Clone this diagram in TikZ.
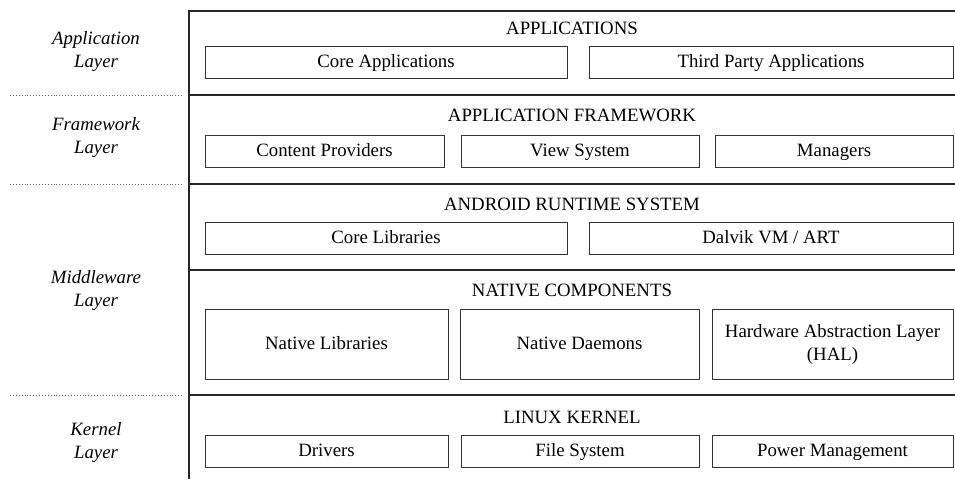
\documentclass[tikz,border=0pt]{standalone}
\usepackage{fontspec}
\setmainfont{Liberation Serif}
\newcommand{\stackfont}{\fontsize{18.8}{23}\selectfont}
\tikzset{
  comp/.style={draw=black!80, line width=0.8pt, inner sep=0pt, align=center,
    minimum height=#1},
  comp/.default=32pt,
  oneline/.style={text height=14pt, text depth=4pt},
  layertitle/.style={inner sep=0pt, anchor=base},
  layername/.style={align=center, font=\stackfont\itshape, inner sep=0pt},
  sep/.style={black!85, line width=1.4pt},
  split/.style={black!60, dotted, line width=0.9pt}
}
\begin{document}
\begin{tikzpicture}[x=1pt,y=-1pt,font=\stackfont]
\useasboundingbox (0,0) rectangle (955,479);
% frame of the stack
\draw[sep] (189,479) -- (189,11) -- (955,11);
\draw[sep] (189,95) -- (955,95);
\draw[sep] (189,184) -- (955,184);
\draw[sep] (189,270) -- (955,270);
\draw[sep] (189,395) -- (955,395);
% layer splits on the left
\draw[split] (10,95) -- (183,95);
\draw[split] (10,184) -- (183,184);
\draw[split] (10,395) -- (183,395);
\node[layername] (lapp) at (96,52) {Application\\Layer};
\node[layername] (lfw) at (96,138) {Framework\\Layer};
\node[layername] (lmid) at (96,291) {Middleware\\Layer};
\node[layername] (lker) at (96,442) {Kernel\\Layer};
% applications
\node[layertitle] (tapp) at (572,34) {APPLICATIONS};
\node[comp, oneline, minimum width=362pt] (coreapp) at (386,62) {Core Applications};
\node[comp, oneline, minimum width=364pt] (thirdapp) at (771,62) {Third Party Applications};
% framework
\node[layertitle] (tfw) at (572,121) {APPLICATION FRAMEWORK};
\node[comp, oneline, minimum width=239pt] (provider) at (324.5,151.5) {Content Providers};
\node[comp, oneline, minimum width=238pt] (viewsys) at (580,151.5) {View System};
\node[comp, oneline, minimum width=238pt] (manager) at (834,151.5) {Managers};
% runtime
\node[layertitle] (trt) at (572,210) {ANDROID RUNTIME SYSTEM};
\node[comp, oneline, minimum width=362pt] (corelib) at (386,238) {Core Libraries};
\node[comp, oneline, minimum width=364pt] (dalvik) at (771,238) {Dalvik VM / ART};
% native
\node[layertitle] (tnat) at (572,296) {NATIVE COMPONENTS};
\node[comp=70pt, oneline, minimum width=243pt] (natlib) at (326.5,344) {Native Libraries};
\node[comp=70pt, oneline, minimum width=239pt] (natdae) at (579.5,344) {Native Daemons};
\node[comp=70pt, minimum width=241pt] (hal) at (832.5,344) {Hardware Abstraction Layer\\(HAL)};
% kernel
\node[layertitle] (tker) at (572,423) {LINUX KERNEL};
\node[comp, oneline, minimum width=243pt] (driver) at (326.5,451.5) {Drivers};
\node[comp, oneline, minimum width=238pt] (filesys) at (580,451.5) {File System};
\node[comp, oneline, minimum width=241pt] (power) at (832.5,451.5) {Power Management};
\end{tikzpicture}
\end{document}
